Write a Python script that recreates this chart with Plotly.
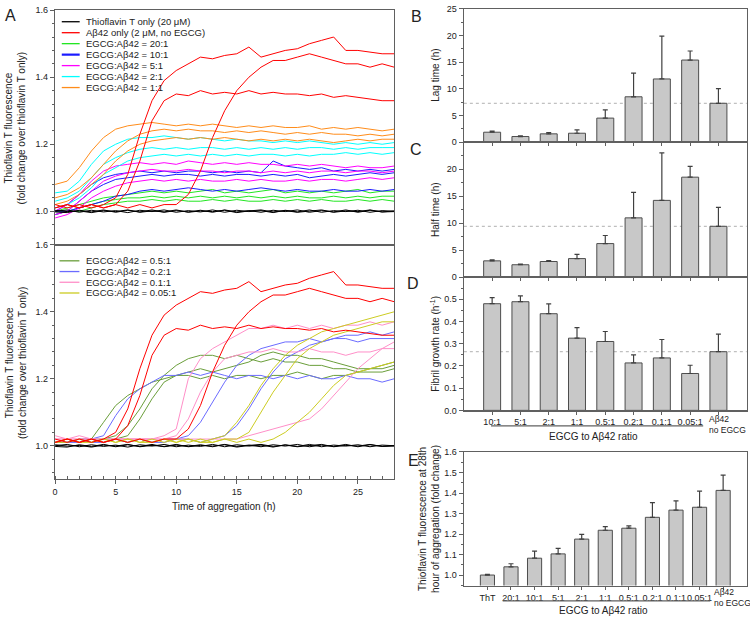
import plotly.graph_objects as go

W, H = 750, 622
FONT = "Liberation Sans, Arial, sans-serif"
AX = "#606060"
TXT = "#222222"

# ---------------- Panel A data (fold change, sampled every hour) ----------------
hours = list(range(29))

tht_1 = [1.000,1.004,0.997,1.003,0.998,1.002,0.996,1.003,0.999,1.004,0.997,1.002,0.998,1.004,0.997,1.003,0.999,1.002,0.996,1.003,0.998,1.004,0.997,1.002,0.999,1.003,0.997,1.002,1.000]
tht_2 = [0.998,0.996,1.003,0.998,1.004,0.997,1.003,0.998,1.004,0.997,1.002,0.998,1.003,0.997,1.004,0.998,1.002,0.997,1.003,0.999,1.004,0.997,1.002,0.998,1.004,0.997,1.003,0.998,1.001]
tht_3 = [1.003,0.999,1.001,0.996,1.002,0.999,1.004,0.997,1.001,0.998,1.004,0.997,1.001,0.999,1.003,0.996,1.001,1.004,0.998,1.002,0.997,1.001,1.004,0.997,1.001,0.999,1.004,0.998,0.999]

abeta_1 = [1.02,1.01,1.02,1.01,1.02,1.04,1.11,1.23,1.33,1.39,1.42,1.44,1.46,1.455,1.465,1.47,1.49,1.46,1.47,1.48,1.485,1.50,1.51,1.52,1.48,1.48,1.475,1.47,1.47]
abeta_2 = [1.01,1.02,1.01,1.02,1.01,1.02,1.06,1.15,1.27,1.33,1.35,1.345,1.36,1.35,1.355,1.35,1.36,1.35,1.355,1.35,1.35,1.345,1.35,1.34,1.345,1.34,1.335,1.33,1.33]
abeta_3 = [1.01,1.02,1.01,1.02,1.01,1.02,1.01,1.02,1.01,1.02,1.02,1.05,1.12,1.22,1.30,1.36,1.40,1.43,1.45,1.45,1.46,1.47,1.46,1.45,1.44,1.44,1.43,1.44,1.43]

r20_1 = [1.00,1.01,1.02,1.03,1.04,1.045,1.05,1.055,1.06,1.055,1.06,1.055,1.06,1.065,1.055,1.06,1.055,1.06,1.065,1.055,1.06,1.055,1.06,1.055,1.06,1.065,1.055,1.06,1.06]
r20_2 = [1.00,1.00,1.01,1.02,1.03,1.035,1.04,1.04,1.045,1.04,1.045,1.04,1.045,1.04,1.045,1.04,1.045,1.04,1.045,1.04,1.045,1.04,1.04,1.045,1.04,1.045,1.04,1.045,1.045]
r20_3 = [0.99,1.00,1.00,1.01,1.02,1.025,1.03,1.03,1.035,1.03,1.035,1.03,1.03,1.035,1.03,1.035,1.03,1.03,1.035,1.03,1.035,1.03,1.035,1.03,1.03,1.035,1.03,1.035,1.03]

r10_1 = [1.00,1.02,1.05,1.08,1.10,1.11,1.115,1.12,1.115,1.12,1.115,1.12,1.12,1.115,1.12,1.115,1.12,1.115,1.15,1.135,1.13,1.125,1.13,1.12,1.125,1.12,1.125,1.12,1.125]
r10_2 = [0.99,1.00,1.03,1.06,1.08,1.095,1.10,1.105,1.11,1.105,1.11,1.11,1.105,1.11,1.105,1.11,1.11,1.105,1.11,1.105,1.11,1.10,1.105,1.11,1.105,1.11,1.115,1.11,1.115]
r10_3 = [1.00,1.00,1.01,1.02,1.03,1.045,1.05,1.06,1.065,1.06,1.065,1.07,1.065,1.06,1.065,1.06,1.065,1.07,1.065,1.06,1.065,1.06,1.06,1.065,1.06,1.06,1.065,1.06,1.065]

r5_1 = [1.00,1.02,1.05,1.09,1.12,1.135,1.14,1.145,1.14,1.145,1.14,1.15,1.145,1.14,1.145,1.14,1.145,1.14,1.14,1.135,1.14,1.135,1.14,1.135,1.13,1.135,1.13,1.13,1.135]
r5_2 = [0.99,1.00,1.03,1.06,1.09,1.105,1.115,1.12,1.125,1.12,1.12,1.125,1.12,1.12,1.115,1.12,1.12,1.115,1.12,1.115,1.12,1.115,1.12,1.12,1.115,1.12,1.12,1.115,1.12]
r5_3 = [0.98,0.99,1.01,1.04,1.06,1.075,1.085,1.09,1.095,1.09,1.095,1.09,1.095,1.09,1.09,1.095,1.09,1.095,1.09,1.09,1.095,1.09,1.095,1.095,1.09,1.095,1.10,1.095,1.10]

r2_1 = [1.055,1.06,1.09,1.14,1.18,1.20,1.215,1.22,1.22,1.225,1.22,1.215,1.22,1.215,1.21,1.215,1.21,1.21,1.205,1.21,1.205,1.21,1.205,1.20,1.205,1.20,1.205,1.20,1.205]
r2_2 = [1.03,1.04,1.06,1.10,1.14,1.16,1.175,1.185,1.19,1.185,1.19,1.185,1.19,1.19,1.185,1.19,1.185,1.19,1.185,1.19,1.185,1.19,1.19,1.185,1.19,1.185,1.19,1.19,1.19]
r2_3 = [1.01,1.02,1.04,1.07,1.11,1.13,1.15,1.16,1.165,1.17,1.165,1.17,1.165,1.17,1.165,1.17,1.165,1.17,1.17,1.165,1.17,1.165,1.17,1.17,1.175,1.17,1.175,1.17,1.175]

r1_1 = [1.08,1.09,1.13,1.18,1.22,1.245,1.255,1.26,1.265,1.26,1.255,1.26,1.255,1.26,1.255,1.25,1.255,1.25,1.255,1.25,1.25,1.255,1.245,1.25,1.245,1.25,1.245,1.24,1.245]
r1_2 = [1.04,1.05,1.07,1.10,1.14,1.18,1.21,1.23,1.24,1.245,1.24,1.245,1.24,1.24,1.235,1.24,1.235,1.24,1.235,1.23,1.235,1.23,1.235,1.23,1.23,1.225,1.23,1.225,1.23]
r1_3 = [1.02,1.03,1.05,1.08,1.11,1.15,1.18,1.20,1.21,1.215,1.22,1.215,1.22,1.215,1.22,1.215,1.21,1.215,1.21,1.215,1.21,1.215,1.21,1.205,1.21,1.215,1.21,1.215,1.215]

r05_1 = [1.01,1.01,1.02,1.02,1.07,1.12,1.15,1.17,1.19,1.20,1.21,1.21,1.20,1.21,1.20,1.21,1.21,1.20,1.21,1.21,1.22,1.21,1.20,1.21,1.21,1.22,1.22,1.22,1.23]
r05_2 = [1.01,1.01,1.02,1.01,1.02,1.03,1.06,1.11,1.17,1.21,1.24,1.26,1.27,1.27,1.26,1.27,1.26,1.25,1.26,1.25,1.25,1.24,1.24,1.23,1.23,1.22,1.23,1.23,1.24]
r05_3 = [1.01,1.02,1.01,1.02,1.02,1.02,1.03,1.08,1.14,1.19,1.21,1.22,1.23,1.22,1.23,1.24,1.25,1.27,1.28,1.27,1.27,1.26,1.26,1.25,1.24,1.23,1.23,1.24,1.25]

r02_1 = [1.01,1.01,1.02,1.02,1.03,1.09,1.14,1.17,1.19,1.21,1.21,1.22,1.21,1.22,1.21,1.20,1.21,1.21,1.20,1.21,1.20,1.21,1.20,1.20,1.21,1.20,1.20,1.19,1.20]
r02_2 = [1.01,1.01,1.02,1.01,1.01,1.02,1.01,1.02,1.01,1.02,1.02,1.03,1.07,1.13,1.19,1.24,1.27,1.29,1.30,1.31,1.31,1.32,1.31,1.32,1.32,1.31,1.32,1.32,1.32]
r02_3 = [1.01,1.01,1.01,1.02,1.01,1.02,1.01,1.02,1.01,1.01,1.02,1.02,1.01,1.02,1.03,1.06,1.11,1.17,1.22,1.26,1.28,1.30,1.31,1.32,1.33,1.33,1.34,1.33,1.34]

r01_1 = [1.03,1.02,1.02,1.02,1.02,1.02,1.02,1.02,1.02,1.03,1.05,1.20,1.26,1.29,1.31,1.33,1.35,1.35,1.36,1.35,1.36,1.35,1.36,1.35,1.36,1.36,1.37,1.36,1.37]
r01_2 = [1.02,1.02,1.03,1.02,1.02,1.02,1.02,1.02,1.02,1.02,1.03,1.08,1.16,1.22,1.26,1.27,1.28,1.28,1.29,1.28,1.28,1.29,1.28,1.28,1.27,1.28,1.28,1.29,1.29]
r01_3 = [1.02,1.02,1.02,1.02,1.01,1.02,1.02,1.02,1.02,1.02,1.02,1.02,1.02,1.02,1.02,1.02,1.03,1.04,1.05,1.06,1.07,1.08,1.11,1.15,1.19,1.23,1.26,1.29,1.31]

r005_1 = [1.01,1.02,1.01,1.02,1.01,1.02,1.01,1.02,1.01,1.02,1.01,1.02,1.01,1.02,1.03,1.07,1.12,1.18,1.23,1.27,1.30,1.32,1.34,1.35,1.36,1.37,1.38,1.39,1.40]
r005_2 = [1.01,1.01,1.02,1.01,1.02,1.01,1.02,1.01,1.02,1.01,1.02,1.01,1.02,1.01,1.02,1.02,1.04,1.10,1.16,1.21,1.26,1.29,1.31,1.33,1.34,1.35,1.36,1.37,1.37]
r005_3 = [1.01,1.02,1.01,1.01,1.02,1.01,1.02,1.01,1.01,1.02,1.01,1.02,1.01,1.01,1.02,1.01,1.02,1.01,1.02,1.04,1.07,1.10,1.14,1.18,1.21,1.22,1.23,1.24,1.25]

top_names = ["Thioflavin T only (20 μM)", "Aβ42 only (2 μM, no EGCG)", "EGCG:Aβ42 = 20:1",
             "EGCG:Aβ42 = 10:1", "EGCG:Aβ42 = 5:1", "EGCG:Aβ42 = 2:1", "EGCG:Aβ42 = 1:1"]
top_colors = ["#000000", "#ff0000", "#22e622", "#1a1aff", "#ff00ff", "#00ffff", "#ff8c1a"]
top_data = [[tht_1, tht_2, tht_3], [abeta_1, abeta_2, abeta_3], [r20_1, r20_2, r20_3],
            [r10_1, r10_2, r10_3], [r5_1, r5_2, r5_3], [r2_1, r2_2, r2_3], [r1_1, r1_2, r1_3]]

bot_names = ["EGCG:Aβ42 = 0.5:1", "EGCG:Aβ42 = 0.2:1", "EGCG:Aβ42 = 0.1:1", "EGCG:Aβ42 = 0.05:1"]
bot_colors = ["#6a9e3a", "#6b6bff", "#ff8fc8", "#cccc22"]
bot_data = [[r05_1, r05_2, r05_3], [r02_1, r02_2, r02_3], [r01_1, r01_2, r01_3], [r005_1, r005_2, r005_3]]

# ---------------- Panels B-E data ----------------
ratio_cats = ["10:1", "5:1", "2:1", "1:1", "0.5:1", "0.2:1", "0.1:1", "0.05:1", "Aβ42<br>no EGCG"]
lag_time = [1.85, 1.04, 1.54, 1.66, 4.5, 8.5, 11.85, 15.4, 7.28]
lag_err = [0.2, 0.11, 0.26, 0.64, 1.54, 4.46, 8.05, 1.7, 2.77]
half_time = [3.0, 2.28, 2.88, 3.42, 6.2, 10.96, 14.2, 18.5, 9.4]
half_err = [0.19, 0.12, 0.18, 0.78, 1.5, 4.74, 8.8, 2.0, 3.5]
growth_rate = [0.48, 0.489, 0.435, 0.325, 0.31, 0.2135, 0.236, 0.166, 0.264]
growth_err = [0.027, 0.026, 0.044, 0.047, 0.045, 0.036, 0.083, 0.037, 0.079]

e_cats = ["ThT", "20:1", "10:1", "5:1", "2:1", "1:1", "0.5:1", "0.2:1", "0.1:1", "0.05:1", "Aβ42<br>no EGCG"]
fluor_28h = [1.001, 1.041, 1.083, 1.104, 1.176, 1.219, 1.229, 1.282, 1.317, 1.331, 1.413]
fluor_err = [0.003, 0.015, 0.034, 0.027, 0.023, 0.018, 0.011, 0.072, 0.045, 0.079, 0.074]


def px(x):
    return x / W


def py(y):
    return 1 - y / H


fig = go.Figure()

# Panel A top
order_top = [2, 3, 4, 5, 6, 1, 0]
for gi in order_top:
    for series in top_data[gi]:
        fig.add_trace(go.Scatter(x=hours, y=series, mode="lines", xaxis="x", yaxis="y",
                                 line=dict(color=top_colors[gi], width=1), showlegend=False,
                                 hoverinfo="skip"))
# Panel A bottom
for gi in range(len(bot_data)):
    for series in bot_data[gi]:
        fig.add_trace(go.Scatter(x=hours, y=series, mode="lines", xaxis="x2", yaxis="y2",
                                 line=dict(color=bot_colors[gi], width=1), showlegend=False,
                                 hoverinfo="skip"))
for gi in [1, 0]:
    for series in top_data[gi]:
        fig.add_trace(go.Scatter(x=hours, y=series, mode="lines", xaxis="x2", yaxis="y2",
                                 line=dict(color=top_colors[gi], width=1), showlegend=False,
                                 hoverinfo="skip"))

BAR_FILL = "#c8c8c8"
BAR_LINE = "#4d4d4d"


def add_bars(vals, errs, xa, ya):
    fig.add_trace(go.Bar(x=list(range(len(vals))), y=vals, xaxis=xa, yaxis=ya, width=0.6,
                         marker=dict(color=BAR_FILL, line=dict(color=BAR_LINE, width=1)),
                         error_y=dict(type="data", symmetric=False, array=errs,
                                      arrayminus=[0] * len(errs), color="#404040",
                                      thickness=1.2, width=2.5),
                         showlegend=False, hoverinfo="skip"))


add_bars(lag_time, lag_err, "x3", "y3")
add_bars(half_time, half_err, "x4", "y4")
add_bars(growth_rate, growth_err, "x5", "y5")
add_bars(fluor_28h, fluor_err, "x6", "y6")

tickfont = dict(family=FONT, size=9, color=TXT)
base_ax = dict(showline=True, linecolor=AX, linewidth=1.2, mirror=True, showgrid=False,
               zeroline=False, tickfont=tickfont, tickcolor=AX, fixedrange=True, tickangle=0)

A_X = [px(52.3), px(392.8)]
BD_X = [px(462.7), px(746.7)]

# last category labels drawn as left-aligned annotations (as in the original)
d_ticktext = ratio_cats[:-1] + [" "]
e_ticktext = e_cats[:-1] + [" "]

layout = dict(
    width=W, height=H, margin=dict(l=0, r=0, t=0, b=0),
    paper_bgcolor="white", plot_bgcolor="white", font=dict(family=FONT, color=TXT),
    bargap=0.4, showlegend=False,
    xaxis=dict(base_ax, domain=A_X, range=[0, 28], anchor="y", showticklabels=False, ticks=""),
    yaxis=dict(base_ax, domain=[py(243.7), py(5.3)], range=[0.9, 1.6], anchor="x",
               tickvals=[1.0, 1.2, 1.4, 1.6], tickformat=".1f", ticks="outside", ticklen=4,
               minor=dict(dtick=0.04, tick0=0, ticks="outside", ticklen=2, tickcolor=AX)),
    xaxis2=dict(base_ax, domain=A_X, range=[0, 28], anchor="y2", dtick=5, ticks="outside",
                ticklen=4, minor=dict(dtick=1, ticks="inside", ticklen=3, tickcolor=AX)),
    yaxis2=dict(base_ax, domain=[py(482), py(243.7)], range=[0.9, 1.6], anchor="x2",
                tickvals=[1.0, 1.2, 1.4, 1.6], tickformat=".1f", ticks="outside", ticklen=4,
                minor=dict(dtick=0.04, tick0=0, ticks="outside", ticklen=2, tickcolor=AX)),
    xaxis3=dict(base_ax, domain=BD_X, range=[-1, 9], anchor="y3", tickvals=list(range(9)),
                showticklabels=False, ticks="outside", ticklen=3),
    yaxis3=dict(base_ax, domain=[py(139.3), py(4)], range=[0, 25], anchor="x3", dtick=5,
                ticks="outside", ticklen=4,
                minor=dict(dtick=2.5, ticks="outside", ticklen=2, tickcolor=AX)),
    xaxis4=dict(base_ax, domain=BD_X, range=[-1, 9], anchor="y4", tickvals=list(range(9)),
                showticklabels=False, ticks="outside", ticklen=3),
    yaxis4=dict(base_ax, domain=[py(276.5), py(139.3)], range=[0, 25], anchor="x4",
                tickvals=[0, 5, 10, 15, 20], ticks="outside", ticklen=4,
                minor=dict(dtick=2.5, ticks="outside", ticklen=2, tickcolor=AX)),
    xaxis5=dict(base_ax, domain=BD_X, range=[-1, 9], anchor="y5", tickvals=list(range(9)),
                ticktext=d_ticktext, ticks="outside", ticklen=3),
    yaxis5=dict(base_ax, domain=[py(412), py(276.5)], range=[0, 0.6], anchor="x5",
                tickvals=[0, 0.1, 0.2, 0.3, 0.4, 0.5], tickformat=".1f", ticks="outside", ticklen=4,
                minor=dict(dtick=0.05, ticks="outside", ticklen=2, tickcolor=AX)),
    xaxis6=dict(base_ax, domain=BD_X, range=[-1, 11], anchor="y6", tickvals=list(range(11)),
                ticktext=e_ticktext, ticks="outside", ticklen=3),
    yaxis6=dict(base_ax, domain=[py(590), py(454.3)], range=[0.95, 1.6], anchor="x6",
                tickvals=[1.0, 1.1, 1.2, 1.3, 1.4, 1.5, 1.6], tickformat=".1f", ticks="outside",
                ticklen=4, minor=dict(dtick=0.05, tick0=0, ticks="outside", ticklen=2, tickcolor=AX)),
)
fig.update_layout(**layout)

shapes = []
annotations = []

# Manual legends for panel A
for i, (name, col) in enumerate(zip(top_names, top_colors)):
    yy = (243.7 - (17 + 11.15 * i)) / 238.4
    shapes.append(dict(type="line", xref="x domain", yref="y domain", x0=0.0197, x1=0.0725,
                       y0=yy, y1=yy, line=dict(color=col, width=2.2 if i == 3 else 1.3)))
    annotations.append(dict(xref="x domain", yref="y domain", x=0.0866, y=yy, text=name,
                            showarrow=False, xanchor="left", yanchor="middle",
                            font=dict(family=FONT, size=9.5, color=TXT)))
for i, (name, col) in enumerate(zip(bot_names, bot_colors)):
    yy = (482 - (260 + 10.9 * i)) / 238.3
    shapes.append(dict(type="line", xref="x2 domain", yref="y2 domain", x0=0.0129, x1=0.0717,
                       y0=yy, y1=yy, line=dict(color=col, width=1.3)))
    annotations.append(dict(xref="x2 domain", yref="y2 domain", x=0.0863, y=yy, text=name,
                            showarrow=False, xanchor="left", yanchor="middle",
                            font=dict(family=FONT, size=9.5, color=TXT)))

# Dotted reference lines (Aβ42 no EGCG value)
for ya, xa, vals in [("y3", "x3", lag_time), ("y4", "x4", half_time), ("y5", "x5", growth_rate)]:
    shapes.append(dict(type="line", xref=xa + " domain", yref=ya, x0=0, x1=1, y0=vals[-1],
                       y1=vals[-1], line=dict(color="#b0b0b0", width=1, dash="dot"), layer="below"))

# Bracket lines under ratio labels
shapes.append(dict(type="line", xref="paper", yref="paper", x0=px(490), x1=px(703),
                   y0=py(427.7), y1=py(427.7), line=dict(color=AX, width=1.2)))
shapes.append(dict(type="line", xref="paper", yref="paper", x0=px(501.7), x1=px(710),
                   y0=py(605.7), y1=py(605.7), line=dict(color=AX, width=1.2)))


def ann(x, y, text, size=10, angle=0, anchor="center", align="center"):
    annotations.append(dict(xref="paper", yref="paper", x=px(x), y=py(y), text=text,
                            showarrow=False, xanchor=anchor, yanchor="middle", textangle=angle,
                            align=align, font=dict(family=FONT, size=size, color=TXT)))


ann(222, 510, "Time of aggregation (h)")
ann(593, 439, "EGCG to Aβ42 ratio")
ann(603, 615.5, "EGCG to Aβ42 ratio")
ann(13, 124.5, "Thioflavin T fluorescence<br>(fold change over thioflavin T only)", angle=-90)
ann(13, 363, "Thioflavin T fluorescence<br>(fold change over thioflavin T only)", angle=-90)
ann(434, 71.7, "Lag time (h)", angle=-90)
ann(434, 208, "Half time (h)", angle=-90)
ann(434, 344, "Fibril growth rate (h<sup>-1</sup>)", angle=-90)
ann(427, 522, "Thioflavin T fluorescence at 28th<br>hour of aggregation (fold change)", angle=-90)

# last category tick labels, left aligned under the bar like the original
annotations.append(dict(xref="x5", yref="paper", x=-0.36 + 8, y=py(426), text=ratio_cats[-1],
                        showarrow=False, xanchor="left", yanchor="middle", align="left",
                        borderpad=0, font=dict(family=FONT, size=8.5, color=TXT)))
annotations.append(dict(xref="x6", yref="paper", x=-0.42 + 10, y=py(602), text=e_cats[-1],
                        showarrow=False, xanchor="left", yanchor="middle", align="left",
                        borderpad=0, font=dict(family=FONT, size=8.5, color=TXT)))

ann(8, 11, "A", size=16)
ann(415, 12, "B", size=16)
ann(415, 147, "C", size=16)
ann(412, 283, "D", size=16)
ann(412, 463, "E", size=16)

fig.update_layout(shapes=shapes, annotations=annotations)
fig.write_html("out.html", config={"displayModeBar": False, "staticPlot": True},
               post_script="document.body.style.margin='0';document.body.style.padding='0';"
                           "document.body.style.overflow='hidden';")
